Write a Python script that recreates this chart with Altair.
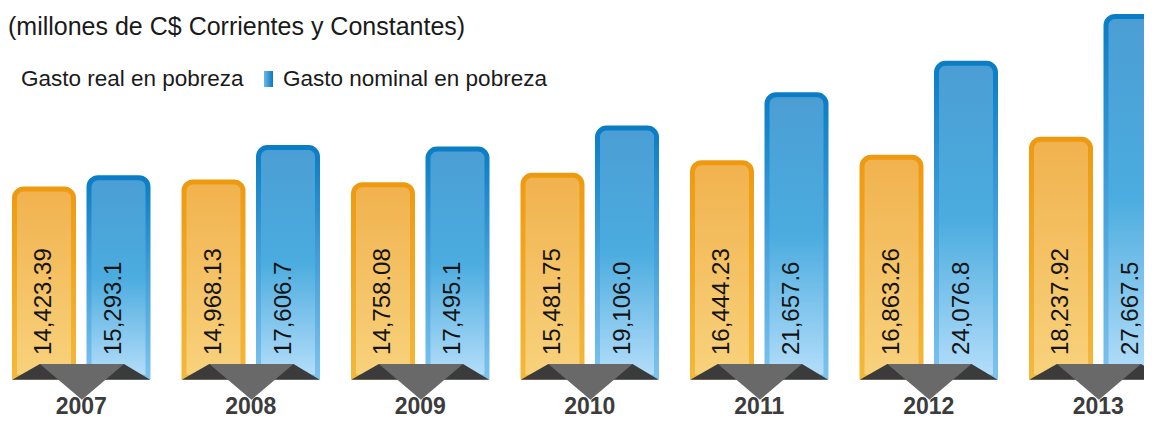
import altair as alt
import pandas as pd

# ---- data ----
years = ["2007", "2008", "2009", "2010", "2011", "2012", "2013"]
real = [14423.39, 14968.13, 14758.08, 15481.75, 16444.23, 16863.26, 18237.92]
nominal = [15293.1, 17606.7, 17495.1, 19106.0, 21657.6, 24076.8, 27667.5]
series_keys = ["real", "nominal"]
legend_labels = ["Gasto real en pobreza", "Gasto nominal en pobreza"]
subtitle = "(millones de C$ Corrientes y Constantes)"

rows = []
for yr, r, n in zip(years, real, nominal):
    rows.append({"year": yr, "series": "real", "value": r, "label": f"{r:,.2f}"})
    rows.append({"year": yr, "series": "nominal", "value": n, "label": f"{n:,.1f}"})
df = pd.DataFrame(rows)
years_df = pd.DataFrame({"year": years})
one = pd.DataFrame({"t": [subtitle]})

W, H = 1136, 412
FONT = "Liberation Sans"


def vgrad(stops, horizontal=False):
    return alt.Gradient(
        gradient="linear",
        stops=[alt.GradientStop(color=c, offset=o) for o, c in stops],
        x1=0, y1=0,
        x2=1 if horizontal else 0,
        y2=0 if horizontal else 1,
    )


orange_fill = vgrad([(0, "#f1b24e"), (1, "#f8d27c")])
orange_stroke = vgrad([(0, "#ee9a10"), (1, "#f4b83a")])
blue_fill = vgrad([(0, "#4b9ed4"), (0.5, "#4bacdf"), (1, "#b5defa")])
blue_stroke = vgrad([(0, "#0a7dc5"), (1, "#7cc3ee")])

x_enc = alt.X(
    "year:N", sort=years, axis=None,
    scale=alt.Scale(domain=years, range=[6.5, 1157], paddingInner=0.2124, paddingOuter=0),
)
xo_enc = alt.XOffset(
    "series:N",
    scale=alt.Scale(domain=series_keys, paddingInner=0.208, paddingOuter=0),
)
y_scale = alt.Scale(domain=[-3300, 28319], nice=False, zero=False)

base = alt.Chart(df)


def bars(key, fill, stroke):
    return base.transform_filter(alt.datum.series == key).mark_bar(
        fill=fill, stroke=stroke, strokeWidth=5,
        cornerRadiusTopLeft=9, cornerRadiusTopRight=9,
    ).encode(
        x=x_enc, xOffset=xo_enc,
        y=alt.Y("value:Q", axis=None, scale=y_scale),
        y2=alt.datum(0),
    )


bars_real = bars("real", orange_fill, orange_stroke)
bars_nom = bars("nominal", blue_fill, blue_stroke)

ribbon_dark = alt.Chart(years_df).mark_point(
    shape="M-1,0.04 L-0.6,-0.19 L0.62,-0.19 L1,0.04 Z",
    filled=True, size=19044, color="#3b3b3b", opacity=1, strokeWidth=0,
).encode(x=x_enc, y=alt.datum(0))

ribbon_gray = alt.Chart(years_df).mark_point(
    shape="M-0.6,-0.19 L0.62,-0.19 L0.01,0.33 Z",
    filled=True, size=19044, color="#696969", opacity=1, strokeWidth=0,
).encode(x=x_enc, y=alt.datum(0))


def value_labels(key, shift):
    return base.transform_filter(alt.datum.series == key).mark_text(
        angle=270, align="left", baseline="middle", dx=22, dy=shift,
        fontSize=24, font=FONT, color="#141414",
    ).encode(x=x_enc, xOffset=xo_enc, y=alt.datum(0), text="label:N")


labels_real = value_labels("real", 0)
labels_nom = value_labels("nominal", -4)

year_labels = alt.Chart(years_df).mark_text(
    fontSize=23, font=FONT, fontWeight="bold", color="#3c3c3c", baseline="middle",
).encode(x=x_enc, y=alt.value(399), text="year:N")

subtitle_text = alt.Chart(one).mark_text(
    align="left", baseline="alphabetic", fontSize=25, font=FONT, color="#1a1a1a",
).encode(x=alt.value(0), y=alt.value(27), text="t:N")

leg_df = pd.DataFrame({"label": legend_labels})
leg_real_txt = alt.Chart(leg_df).transform_filter(
    alt.datum.label == legend_labels[0]
).mark_text(
    align="left", baseline="alphabetic", fontSize=22.5, font=FONT, color="#1a1a1a",
).encode(x=alt.value(13), y=alt.value(78), text="label:N")
leg_nom_txt = alt.Chart(leg_df).transform_filter(
    alt.datum.label == legend_labels[1]
).mark_text(
    align="left", baseline="alphabetic", fontSize=22.5, font=FONT, color="#1a1a1a",
).encode(x=alt.value(275), y=alt.value(78), text="label:N")
leg_nom_sw = alt.Chart(one).mark_rect(
    fill=vgrad([(0, "#6cb8ea"), (1, "#0a78c0")], horizontal=True),
).encode(x=alt.value(256), x2=alt.value(265), y=alt.value(63), y2=alt.value(79))
leg_real_sw = alt.Chart(one).mark_rect(
    fill=vgrad([(0, "#f6b640"), (1, "#ee9410")], horizontal=True),
).encode(x=alt.value(-9), x2=alt.value(0), y=alt.value(63), y2=alt.value(79))

chart = alt.layer(
    bars_real, bars_nom, ribbon_dark, ribbon_gray, labels_real, labels_nom,
    year_labels, subtitle_text, leg_real_sw, leg_real_txt, leg_nom_sw, leg_nom_txt,
).properties(
    width=W, height=H,
    autosize=alt.AutoSizeParams(type="none"),
    padding=0,
    background="white",
).configure_view(stroke=None)

chart.save("out.html", embed_options={"renderer": "svg", "actions": False})
